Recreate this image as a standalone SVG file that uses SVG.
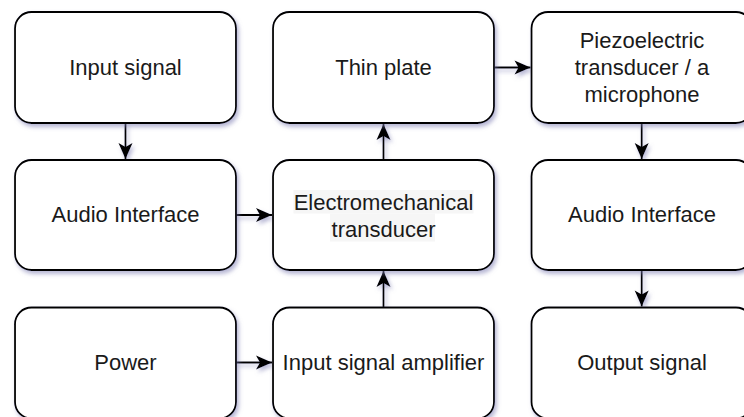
<svg xmlns="http://www.w3.org/2000/svg" width="744" height="417" viewBox="0 0 744 417">
  <defs>
    <filter id="sh" x="-10%" y="-10%" width="130%" height="140%">
      <feDropShadow dx="2" dy="3" stdDeviation="2" flood-color="#7a7ab0" flood-opacity="0.55"/>
    </filter>
    <marker id="ah" viewBox="-17 -8 18 16" refX="0" refY="0" markerWidth="18" markerHeight="16" markerUnits="userSpaceOnUse" orient="auto">
      <path d="M0,0 L-16,-7 L-12,0 L-16,7 Z" fill="#000"/>
    </marker>
  </defs>
  <style>
    .box { fill: #ffffff; stroke: #000000; stroke-width: 1.8; }
    .lbl { font-family: "Liberation Sans", Arial, Helvetica, sans-serif; font-size: 22px; fill: #1a1a1a; text-anchor: middle; }
    .edge { fill: none; stroke: #000000; stroke-width: 1.8; marker-end: url(#ah); }
    .tbg { fill: #f6f6f6; }
  </style>
  <rect width="744" height="417" fill="#ffffff"/>

  <g id="connectors" filter="url(#sh)">
    <line class="edge" x1="125.5" y1="123" x2="125.5" y2="159"/>
    <line class="edge" x1="236" y1="215" x2="272" y2="215"/>
    <line class="edge" x1="236" y1="362.5" x2="272" y2="362.5"/>
    <line class="edge" x1="383.5" y1="307.5" x2="383.5" y2="271"/>
    <line class="edge" x1="383.5" y1="160" x2="383.5" y2="124"/>
    <line class="edge" x1="494" y1="67.5" x2="530.5" y2="67.5"/>
    <line class="edge" x1="641.7" y1="123" x2="641.7" y2="159"/>
    <line class="edge" x1="641.7" y1="270" x2="641.7" y2="306.5"/>
  </g>

  <g id="input-signal">
    <rect class="box" x="15" y="12" width="221" height="111" rx="16.5" filter="url(#sh)"/>
    <text class="lbl" x="125.5" y="74.5">Input signal</text>
  </g>
  <g id="thin-plate">
    <rect class="box" x="273" y="12" width="221" height="111" rx="16.5" filter="url(#sh)"/>
    <text class="lbl" x="383.5" y="74.5">Thin plate</text>
  </g>
  <g id="piezo">
    <rect class="box" x="531.5" y="12" width="221" height="111" rx="16.5" filter="url(#sh)"/>
    <text class="lbl" x="642" y="48">Piezoelectric</text>
    <text class="lbl" x="642" y="75">transducer / a</text>
    <text class="lbl" x="642" y="101.5">microphone</text>
  </g>

  <g id="audio-interface-in">
    <rect class="box" x="15" y="160" width="221" height="110" rx="16.5" filter="url(#sh)"/>
    <text class="lbl" x="125.5" y="221.5">Audio Interface</text>
  </g>
  <g id="electromechanical-transducer">
    <rect class="box" x="273" y="160" width="221" height="110" rx="16.5" filter="url(#sh)"/>
    <rect class="tbg" x="293.5" y="190" width="180" height="23.5"/>
    <rect class="tbg" x="330" y="213.5" width="105" height="28"/>
    <text class="lbl" x="383.5" y="210">Electromechanical</text>
    <text class="lbl" x="383.5" y="236.5">transducer</text>
  </g>
  <g id="audio-interface-out">
    <rect class="box" x="531.5" y="160" width="221" height="110" rx="16.5" filter="url(#sh)"/>
    <text class="lbl" x="642" y="221.5">Audio Interface</text>
  </g>

  <g id="power">
    <rect class="box" x="15" y="307.5" width="221" height="111" rx="16.5" filter="url(#sh)"/>
    <text class="lbl" x="125.5" y="369.5">Power</text>
  </g>
  <g id="input-signal-amplifier">
    <rect class="box" x="273" y="307.5" width="221" height="111" rx="16.5" filter="url(#sh)"/>
    <text class="lbl" x="383.5" y="369.5">Input signal amplifier</text>
  </g>
  <g id="output-signal">
    <rect class="box" x="531.5" y="307.5" width="221" height="111" rx="16.5" filter="url(#sh)"/>
    <text class="lbl" x="642" y="369.5">Output signal</text>
  </g>
</svg>
